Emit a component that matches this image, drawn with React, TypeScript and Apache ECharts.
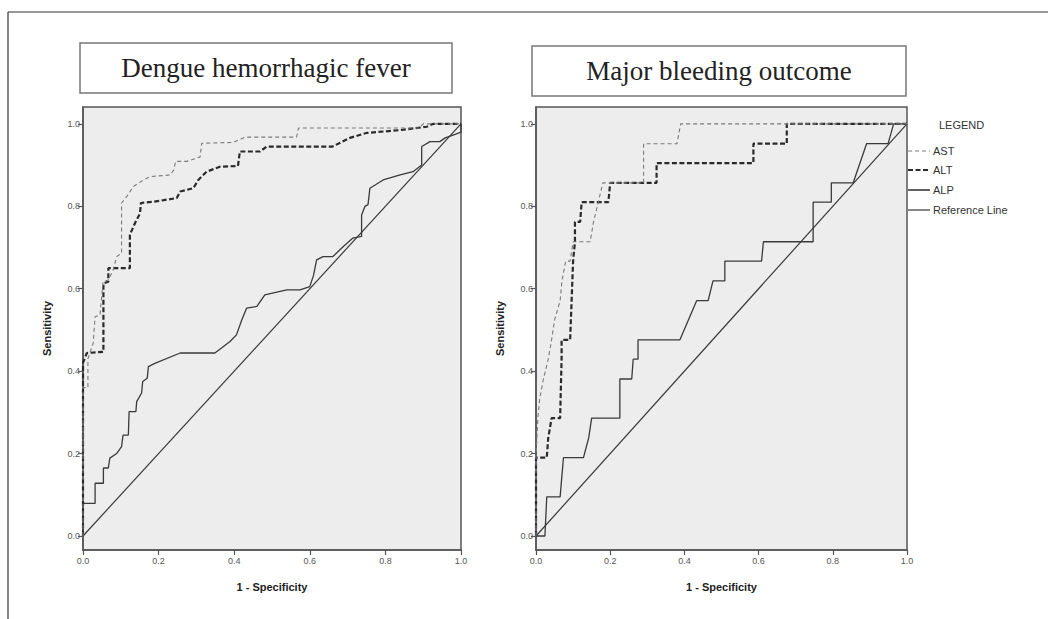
import React, { useEffect, useRef } from "react";
import * as echarts from "echarts";

// ---- Data ----
const panelTitles = ["Dengue hemorrhagic fever", "Major bleeding outcome"];
const seriesNames = ["AST", "ALT", "ALP", "Reference Line"];
const tickValues = [0, 0.2, 0.4, 0.6, 0.8, 1.0];

// Left panel: Dengue hemorrhagic fever
const dhfAST: number[][] = [
  [0, 0], [0, 0.36], [0.013, 0.36], [0.013, 0.43], [0.027, 0.468], [0.032, 0.532], [0.045, 0.536],
  [0.053, 0.617], [0.067, 0.621], [0.08, 0.646], [0.089, 0.678], [0.102, 0.686], [0.102, 0.808],
  [0.116, 0.824], [0.133, 0.848], [0.16, 0.864], [0.177, 0.872], [0.23, 0.876], [0.24, 0.888],
  [0.245, 0.909], [0.274, 0.909], [0.31, 0.92], [0.314, 0.953], [0.397, 0.955], [0.43, 0.968],
  [0.565, 0.968], [0.57, 0.99], [0.89, 0.99], [0.9, 1], [1, 1],
];
const dhfALT: number[][] = [
  [0, 0], [0, 0.42], [0.01, 0.444], [0.054, 0.447], [0.054, 0.613], [0.067, 0.617], [0.067, 0.65],
  [0.124, 0.65], [0.124, 0.731], [0.138, 0.76], [0.151, 0.783], [0.153, 0.808], [0.186, 0.811],
  [0.248, 0.82], [0.257, 0.836], [0.292, 0.844], [0.305, 0.864], [0.327, 0.884], [0.362, 0.896],
  [0.41, 0.898], [0.415, 0.933], [0.468, 0.933], [0.486, 0.945], [0.66, 0.945], [0.706, 0.966],
  [0.75, 0.978], [0.839, 0.985], [0.909, 0.993], [0.926, 1], [1, 1],
];
const dhfALP: number[][] = [
  [0, 0], [0, 0.079], [0.032, 0.079], [0.032, 0.128], [0.054, 0.128], [0.054, 0.165], [0.067, 0.165],
  [0.071, 0.189], [0.089, 0.2], [0.102, 0.217], [0.106, 0.245], [0.12, 0.245], [0.122, 0.302],
  [0.14, 0.302], [0.142, 0.326], [0.155, 0.347], [0.158, 0.375], [0.17, 0.383], [0.173, 0.411],
  [0.19, 0.419], [0.257, 0.444], [0.349, 0.444], [0.389, 0.472], [0.406, 0.488], [0.42, 0.524],
  [0.433, 0.553], [0.46, 0.557], [0.481, 0.585], [0.539, 0.597], [0.574, 0.597], [0.6, 0.605],
  [0.61, 0.633], [0.618, 0.67], [0.635, 0.678], [0.661, 0.678], [0.688, 0.702], [0.714, 0.723],
  [0.737, 0.727], [0.737, 0.779], [0.746, 0.8], [0.754, 0.804], [0.759, 0.844], [0.794, 0.864],
  [0.839, 0.876], [0.873, 0.884], [0.896, 0.9], [0.896, 0.945], [0.918, 0.957], [0.944, 0.957],
  [0.958, 0.966], [0.979, 0.973], [1, 0.98], [1, 1],
];

// Right panel: Major bleeding outcome
const mboAST: number[][] = [
  [0, 0], [0, 0.19], [0.005, 0.286], [0.01, 0.333], [0.02, 0.381], [0.033, 0.429], [0.042, 0.476],
  [0.05, 0.524], [0.065, 0.571], [0.07, 0.619], [0.08, 0.667], [0.092, 0.667], [0.1, 0.714],
  [0.146, 0.714], [0.155, 0.762], [0.168, 0.81], [0.18, 0.857], [0.29, 0.857], [0.29, 0.952],
  [0.38, 0.952], [0.39, 1], [1, 1],
];
const mboALT: number[][] = [
  [0, 0], [0, 0.19], [0.029, 0.19], [0.033, 0.238], [0.042, 0.286], [0.065, 0.286], [0.069, 0.429],
  [0.069, 0.476], [0.092, 0.476], [0.1, 0.667], [0.105, 0.714], [0.105, 0.762], [0.119, 0.762],
  [0.123, 0.81], [0.195, 0.81], [0.2, 0.857], [0.325, 0.857], [0.325, 0.905], [0.586, 0.905],
  [0.586, 0.952], [0.676, 0.952], [0.676, 1], [1, 1],
];
const mboALP: number[][] = [
  [0, 0], [0.024, 0], [0.029, 0.095], [0.065, 0.095], [0.074, 0.19], [0.128, 0.19], [0.142, 0.238],
  [0.15, 0.286], [0.226, 0.286], [0.226, 0.381], [0.258, 0.381], [0.262, 0.429], [0.275, 0.429],
  [0.275, 0.476], [0.388, 0.476], [0.433, 0.571], [0.464, 0.571], [0.477, 0.619], [0.509, 0.619],
  [0.509, 0.667], [0.608, 0.667], [0.613, 0.714], [0.747, 0.714], [0.747, 0.81], [0.796, 0.81],
  [0.796, 0.857], [0.855, 0.857], [0.891, 0.952], [0.949, 0.952], [0.964, 1], [1, 1],
];
const referenceLine: number[][] = [[0, 0], [1, 1]];

const panels = [
  { ast: dhfAST, alt: dhfALT, alp: dhfALP },
  { ast: mboAST, alt: mboALT, alp: mboALP },
];

const styles: Record<string, any> = {
  AST: { color: "#7a7a7a", width: 1.1, type: [4, 3] },
  ALT: { color: "#2a2a2a", width: 2.2, type: [5, 2.5] },
  ALP: { color: "#3a3a3a", width: 1.3, type: "solid" },
  "Reference Line": { color: "#3a3a3a", width: 1.2, type: "solid" },
};

const SANS = "Arial, 'Liberation Sans', sans-serif";

export default function App() {
  const ref = useRef<HTMLDivElement>(null);
  useEffect(() => {
    if (!ref.current) return;
    const chart = echarts.init(ref.current, undefined, { renderer: "svg" });
    const gridDefs = [
      { left: 83, top: 107, width: 378, height: 443 },
      { left: 536, top: 107, width: 371, height: 443 },
    ];
    const labelFont = { fontFamily: SANS, fontSize: 9, color: "#555" };
    const series: any[] = [];
    panels.forEach((p, i) => {
      const datas = [p.ast, p.alt, p.alp, referenceLine];
      seriesNames.forEach((name, k) => {
        const st = styles[name];
        series.push({
          type: "line",
          name,
          xAxisIndex: i,
          yAxisIndex: i,
          data: datas[k],
          symbol: "none",
          showSymbol: false,
          z: 5 - k,
          lineStyle: { color: st.color, width: st.width, type: st.type },
          itemStyle: { color: st.color },
        });
      });
    });

    // legend drawn as graphic elements
    const legendX = 908;
    const legendRows = [151, 170, 190, 210];
    const legendGraphics: any[] = [];
    seriesNames.forEach((name, k) => {
      const st = styles[name];
      const y = legendRows[k];
      legendGraphics.push({
        type: "line",
        shape: { x1: legendX, y1: y, x2: legendX + 22, y2: y },
        style: {
          stroke: st.color,
          lineWidth: name === "ALP" ? 1.6 : st.width,
          lineDash: Array.isArray(st.type) ? st.type : null,
        },
      });
      legendGraphics.push({
        type: "text",
        x: legendX + 25,
        y,
        style: { text: name, fontFamily: SANS, fontSize: 11, fill: "#333", align: "left", verticalAlign: "middle" },
      });
    });

    const option: any = {
      animation: false,
      backgroundColor: "#ffffff",
      grid: gridDefs.map((g) => ({
        ...g,
        show: true,
        backgroundColor: "#ededed",
        borderColor: "#555",
        borderWidth: 1.5,
      })),
      xAxis: gridDefs.map((_, i) => ({
        type: "value",
        gridIndex: i,
        min: 0,
        max: 1,
        interval: 0.2,
        name: "1 - Specificity",
        nameLocation: "middle",
        nameGap: 31,
        nameTextStyle: { fontFamily: SANS, fontSize: 11, fontWeight: "bold", color: "#222" },
        axisLine: { show: true, onZero: false, lineStyle: { color: "#555", width: 1.5 } },
        axisTick: { show: true, length: 5, lineStyle: { color: "#555", width: 1.2 } },
        axisLabel: { ...labelFont, margin: 6, showMinLabel: true, showMaxLabel: true, formatter: (v: number) => v.toFixed(1) },
        splitLine: { show: false },
      })),
      yAxis: gridDefs.map((_, i) => ({
        type: "value",
        gridIndex: i,
        min: -0.034,
        max: 1.041,
        name: "Sensitivity",
        nameLocation: "middle",
        nameGap: 31,
        nameTextStyle: { fontFamily: SANS, fontSize: 11, fontWeight: "bold", color: "#222" },
        axisLine: { show: true, onZero: false, lineStyle: { color: "#555", width: 1.5 } },
        axisTick: { show: true, length: 5, customValues: tickValues, lineStyle: { color: "#555", width: 1.2 } },
        axisLabel: { ...labelFont, margin: 3, customValues: tickValues, formatter: (v: number) => v.toFixed(1) },
        splitLine: { show: false },
      })),
      graphic: [
        { type: "line", shape: { x1: 8, y1: 12, x2: 1048, y2: 12 }, style: { stroke: "#333", lineWidth: 1.2 } },
        { type: "line", shape: { x1: 8, y1: 12, x2: 8, y2: 619 }, style: { stroke: "#333", lineWidth: 1.2 } },
        { type: "rect", shape: { x: 80, y: 43, width: 372, height: 50 }, style: { fill: "#fff", stroke: "#777", lineWidth: 1.5 } },
        { type: "rect", shape: { x: 532, y: 46, width: 374, height: 50 }, style: { fill: "#fff", stroke: "#777", lineWidth: 1.5 } },
        {
          type: "text", x: 266, y: 68,
          style: { text: panelTitles[0], fontFamily: "'Liberation Serif', 'Times New Roman', serif", fontSize: 27, fill: "#222", align: "center", verticalAlign: "middle" },
        },
        {
          type: "text", x: 719, y: 71,
          style: { text: panelTitles[1], fontFamily: "'Liberation Serif', 'Times New Roman', serif", fontSize: 27, fill: "#222", align: "center", verticalAlign: "middle" },
        },
        {
          type: "text", x: 939, y: 125,
          style: { text: "LEGEND", fontFamily: SANS, fontSize: 11, fill: "#333", align: "left", verticalAlign: "middle" },
        },
        ...legendGraphics,
      ],
      series,
    };
    chart.setOption(option);
    return () => chart.dispose();
  }, []);
  return <div ref={ref} style={{ position: "absolute", left: 0, top: 0, width: 1048, height: 619 }} />;
}
